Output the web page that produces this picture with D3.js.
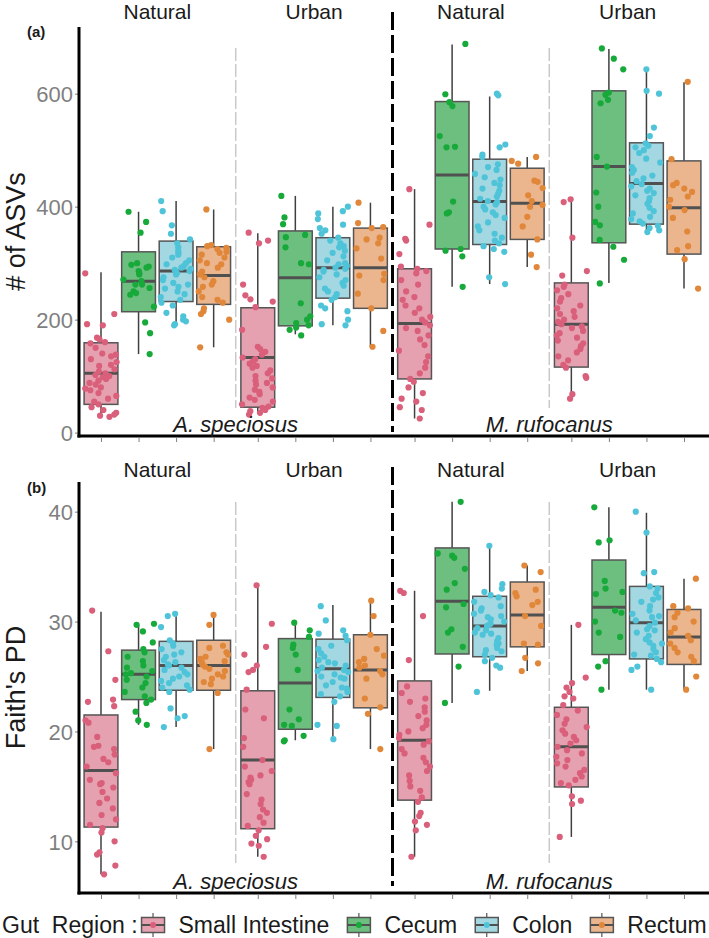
<!DOCTYPE html>
<html>
<head>
<meta charset="utf-8">
<script src="https://cdn.jsdelivr.net/npm/d3@7"></script>
<style>
  body { margin: 0; background: #fff; }
  svg { font-family: "Liberation Sans", Arial, sans-serif; }
</style>
</head>
<body>
<div id="chart"></div>
<script>
// gut regions, habitats, host species
var regions = ["Small Intestine", "Cecum", "Colon", "Rectum"];
var habitats = ["Natural", "Urban", "Natural", "Urban"];
var species = ["A. speciosus", "M. rufocanus"];
var regionColors = ["#d95f7b", "#17a93a", "#4fc4d9", "#e0873a"];
var regionFills = ["#e6a1b1", "#6dbf7f", "#a3d8e2", "#ebb68e"];

// order of the 16 boxes: A.s. Natural (SI, Ce, Co, Re), A.s. Urban, M.r. Natural, M.r. Urban
// box stats: [lower whisker, q1, median, q3, upper whisker]
var asvBox = [
  [30, 50, 105, 159, 284], [139, 214, 268, 320, 391], [190, 232, 286, 339, 410], [151, 227, 278, 329, 395],
  [34, 45, 133, 221, 353], [174, 189, 274, 357, 419], [190, 238, 292, 345, 400], [152, 220, 292, 362, 407],
  [25, 95, 193, 290, 431], [258, 325, 456, 586, 687], [263, 333, 409, 484, 595], [293, 342, 406, 468, 488],
  [58, 116, 192, 265, 412], [265, 336, 471, 605, 679], [353, 369, 441, 513, 642], [255, 316, 398, 481, 620]
];
var asvPts = [
  [282, 210, 192, 190, 168, 165, 160, 158, 150, 140, 138, 135, 130, 125, 120, 118, 112, 108, 105, 102, 100, 98, 95, 92, 88, 85, 80, 78, 75, 70, 65, 60, 55, 50, 45, 40, 35, 32, 30, 28],
  [391, 373, 354, 300, 297, 294, 292, 286, 283, 280, 271, 268, 262, 262, 256, 250, 247, 244, 223, 195, 176, 139],
  [410, 392, 367, 352, 342, 335, 328, 322, 318, 315, 310, 305, 300, 298, 295, 292, 290, 288, 286, 284, 282, 280, 275, 270, 265, 262, 258, 255, 250, 245, 240, 235, 230, 225, 212, 206, 200, 197, 192, 190],
  [395, 332, 330, 327, 325, 320, 318, 315, 310, 305, 300, 298, 292, 285, 280, 275, 268, 262, 258, 250, 240, 235, 230, 220, 215, 210, 200, 151],
  [354, 340, 335, 262, 243, 236, 232, 222, 182, 152, 148, 143, 138, 133, 130, 126, 122, 118, 115, 110, 105, 100, 96, 92, 88, 85, 80, 76, 72, 68, 62, 58, 55, 50, 46, 44, 40, 38, 35, 32],
  [419, 381, 369, 350, 346, 328, 300, 298, 229, 206, 200, 194, 190, 186, 182, 172],
  [400, 392, 388, 378, 368, 362, 358, 352, 345, 340, 335, 330, 328, 322, 318, 312, 305, 300, 298, 295, 292, 290, 288, 285, 280, 275, 270, 265, 260, 255, 250, 245, 240, 235, 225, 220, 215, 200, 192, 190],
  [407, 371, 364, 362, 345, 342, 335, 326, 308, 281, 278, 270, 246, 220, 180, 152],
  [431, 368, 343, 340, 316, 294, 290, 286, 282, 270, 262, 250, 240, 235, 225, 220, 212, 205, 200, 195, 190, 185, 180, 172, 165, 155, 145, 135, 125, 115, 105, 95, 90, 80, 70, 60, 55, 45, 40, 25],
  [688, 599, 585, 578, 525, 506, 505, 409, 390, 388, 325, 322, 312, 258],
  [600, 597, 510, 505, 492, 488, 475, 470, 465, 458, 452, 448, 442, 438, 432, 428, 422, 418, 414, 410, 408, 404, 400, 395, 390, 385, 380, 372, 365, 358, 352, 345, 340, 335, 330, 325, 320, 275, 263],
  [488, 481, 476, 446, 444, 433, 420, 410, 403, 400, 382, 365, 342, 315, 293],
  [413, 408, 345, 286, 278, 262, 258, 252, 245, 238, 232, 225, 220, 215, 210, 205, 200, 196, 192, 188, 185, 180, 176, 172, 168, 163, 158, 153, 148, 142, 135, 128, 120, 115, 100, 97, 68, 60],
  [680, 662, 643, 602, 598, 589, 583, 488, 471, 425, 400, 373, 367, 341, 329, 306, 264],
  [643, 605, 600, 540, 525, 512, 508, 505, 500, 495, 485, 478, 470, 465, 460, 455, 450, 445, 440, 436, 432, 428, 424, 420, 415, 410, 405, 398, 392, 388, 382, 378, 374, 370, 366, 362, 358, 355],
  [621, 484, 442, 438, 432, 426, 418, 412, 400, 394, 380, 356, 330, 323, 307, 255]
];

var pdBox = [
  [7.0, 11.3, 16.45, 21.5, 30.9], [20.6, 22.9, 25.2, 27.4, 29.7], [20.4, 23.75, 26.0, 28.2, 30.7], [18.4, 23.75, 26.0, 28.3, 30.5],
  [8.6, 11.15, 17.4, 23.7, 33.3], [19.2, 20.2, 24.4, 28.45, 29.9], [19.3, 23.1, 25.7, 28.4, 31.5], [18.4, 22.15, 25.6, 28.8, 31.8],
  [8.6, 13.75, 19.2, 24.6, 32.8], [22.6, 27.05, 31.85, 36.7, 40.9], [23.7, 26.8, 29.6, 32.3, 36.8], [25.5, 27.7, 30.6, 33.6, 35.1],
  [10.4, 14.95, 18.6, 22.2, 29.7], [23.8, 27.0, 31.3, 35.6, 40.4], [23.8, 26.6, 29.9, 33.2, 39.9], [23.8, 26.1, 28.6, 31.1, 33.9]
];
var pdPts = [
  [31.0, 27.3, 24.7, 22.9, 22.7, 22.3, 21.0, 20.8, 19.5, 18.7, 18.6, 18.4, 17.9, 17.5, 17.2, 16.8, 16.2, 15.6, 15.3, 15.2, 14.9, 14.5, 13.9, 13.5, 13.0, 12.4, 12.0, 11.5, 11.2, 10.8, 10.0, 9.0, 8.8, 7.8, 7.0],
  [29.8, 29.7, 29.1, 28.1, 27.5, 27.2, 26.8, 26.4, 26.0, 25.8, 25.5, 25.3, 25.2, 25.0, 24.7, 24.4, 24.0, 23.6, 23.2, 22.9, 22.6, 21.8, 21.0, 20.6],
  [30.7, 30.5, 29.5, 28.3, 28.0, 27.8, 27.5, 27.2, 27.0, 26.8, 26.5, 26.3, 26.1, 26.0, 25.8, 25.6, 25.4, 25.2, 25.0, 24.8, 24.6, 24.4, 24.2, 24.0, 23.8, 23.6, 22.1, 21.4, 21.2, 20.4],
  [30.6, 29.7, 27.8, 27.6, 27.2, 27.0, 26.8, 26.6, 26.4, 26.3, 26.1, 25.9, 25.7, 25.5, 25.2, 25.0, 24.8, 24.5, 24.3, 23.5, 18.4],
  [33.3, 29.8, 27.7, 27.0, 26.0, 25.6, 25.4, 23.8, 22.0, 21.2, 19.4, 18.6, 17.4, 16.8, 16.4, 16.0, 15.8, 15.6, 15.4, 15.2, 14.3, 13.8, 13.4, 12.9, 12.6, 12.2, 11.7, 11.4, 11.0, 10.5, 10.2, 9.8, 9.6, 8.6],
  [29.9, 29.2, 28.6, 27.9, 27.6, 27.0, 25.6, 22.0, 21.1, 20.6, 20.5, 19.6, 19.2, 19.1],
  [31.4, 30.1, 29.2, 28.9, 28.7, 28.3, 27.8, 27.5, 27.1, 26.8, 26.5, 26.3, 26.2, 26.0, 25.8, 25.6, 25.5, 25.4, 25.2, 25.0, 24.9, 24.8, 24.5, 24.2, 24.0, 23.9, 23.6, 23.4, 23.2, 22.7, 20.6, 20.5, 19.3],
  [31.9, 30.5, 28.8, 27.5, 26.9, 26.6, 26.3, 26.0, 25.8, 25.5, 25.2, 24.8, 23.0, 22.2, 21.6, 18.4],
  [32.8, 32.6, 30.5, 26.5, 24.1, 23.5, 23.0, 22.7, 22.2, 21.8, 21.4, 21.0, 20.6, 20.3, 20.0, 19.7, 19.4, 19.1, 18.8, 18.4, 18.0, 17.6, 17.2, 16.8, 16.4, 16.0, 15.5, 15.0, 14.6, 14.0, 13.6, 12.6, 12.3, 11.8, 11.5, 11.0, 8.6],
  [40.9, 36.2, 36.0, 35.8, 34.8, 33.5, 32.9, 31.6, 31.3, 29.3, 29.0, 27.7, 25.9, 22.6],
  [36.9, 33.4, 33.0, 32.7, 32.4, 32.2, 31.8, 31.4, 31.2, 31.0, 30.7, 30.5, 30.4, 30.2, 30.0, 29.8, 29.7, 29.6, 29.4, 29.2, 29.0, 28.9, 28.8, 28.5, 28.2, 28.0, 27.9, 27.6, 27.4, 27.3, 27.0, 26.7, 26.4, 26.0, 25.8, 23.6],
  [35.1, 34.5, 32.9, 32.6, 32.3, 31.8, 31.5, 30.5, 29.6, 28.0, 27.9, 26.7, 26.2, 25.5],
  [29.7, 24.9, 24.4, 24.0, 23.6, 23.2, 23.0, 22.4, 21.9, 21.5, 21.1, 20.7, 20.4, 20.1, 19.8, 19.5, 19.2, 18.9, 18.6, 18.3, 18.0, 17.7, 17.4, 17.1, 16.8, 16.5, 16.2, 15.9, 15.6, 15.3, 15.1, 14.1, 13.7, 13.4, 10.4],
  [40.4, 37.4, 37.2, 33.7, 33.0, 32.7, 32.5, 31.0, 30.8, 30.0, 29.0, 28.6, 26.4, 25.9, 23.8],
  [40.0, 38.1, 34.5, 34.4, 33.2, 33.0, 32.6, 32.2, 32.0, 31.8, 31.4, 31.0, 30.7, 30.5, 30.4, 30.1, 29.9, 29.6, 29.3, 29.2, 29.0, 28.7, 28.4, 28.1, 28.0, 27.8, 27.5, 27.2, 27.0, 26.9, 26.6, 26.3, 25.9, 25.6, 23.8],
  [33.9, 31.4, 31.2, 30.8, 30.4, 30.0, 29.4, 29.0, 28.7, 28.3, 28.0, 27.6, 27.2, 26.8, 26.4, 25.0, 23.8]
];

var asvTicks = [0, 200, 400, 600];
var pdTicks = [10, 20, 30, 40];

var svgWidth = 709;
var svgHeight = 938;
var groupGap = 4.175;   // slots between group starts
var boxW = 0.9;         // box width in slot units

var svg = d3.select("#chart")
    .append("svg")
    .attr("width", svgWidth)
    .attr("height", svgHeight);

// slot position of each box
function slot(i) {
    return Math.floor(i / 4) * groupGap + (i % 4);
}

// fixed pseudo jitter in [0,1) so the picture is the same every run
function jit(k, i, pi) {
    var s = Math.sin(k * 12.9898 + i * 78.233 + pi * 37.719) * 43758.5453;
    return s - Math.floor(s);
}

var xScale = d3.scaleLinear()
    .domain([0, 3 * groupGap + 3])
    .range([101, 684]);

var axisLeft = 79;
var ink = "#1a1a1a";

var panels = [
    { box: asvBox, pts: asvPts, ticks: asvTicks, domain: [-6, 718], range: [436, 27],
      title: "# of ASVs", tag: "(a)", tagY: 37, stripY: 19, gray: [48, 408], black: [12, 432] },
    { box: pdBox, pts: pdPts, ticks: pdTicks, domain: [5.3, 42.7], range: [893, 482],
      title: "Faith's PD", tag: "(b)", tagY: 493, stripY: 477, gray: [502, 863], black: [467, 886] }
];

panels.forEach(function(p, pi) {
    var y = d3.scaleLinear().domain(p.domain).range(p.range);
    var g = svg.append("g");
    var bottom = p.range[0];

    // divider lines between habitats and species
    [3, 11].forEach(function(s) {
        var xx = xScale((slot(s) + slot(s + 1)) / 2);
        g.append("line")
            .attr("x1", xx).attr("x2", xx)
            .attr("y1", p.gray[0]).attr("y2", p.gray[1])
            .attr("stroke", "#c9c9c9")
            .attr("stroke-width", 1.5)
            .attr("stroke-dasharray", "13,3");
    });
    var xb = xScale((slot(7) + slot(8)) / 2);
    g.append("line")
        .attr("x1", xb).attr("x2", xb)
        .attr("y1", p.black[0]).attr("y2", p.black[1])
        .attr("stroke", "#000")
        .attr("stroke-width", 3)
        .attr("stroke-dasharray", "18,5");

    // y axis
    var yAxis = d3.axisLeft(y).tickValues(p.ticks).tickSize(4).tickSizeOuter(0);
    var ya = g.append("g")
        .attr("transform", `translate(${axisLeft},0)`)
        .call(yAxis);
    ya.select(".domain").remove();
    ya.selectAll(".tick line").attr("stroke", "#7f7f7f");
    ya.selectAll(".tick text")
        .attr("fill", "#7f7f7f")
        .attr("font-size", "22px")
        .attr("font-family", "Liberation Sans, Arial, sans-serif")
        .attr("x", -6)
        .attr("dy", "0.36em");

    // x axis ticks
    var xTicks = d3.range(16).map(slot);
    var xAxis = d3.axisBottom(xScale).tickValues(xTicks).tickFormat("").tickSize(4).tickSizeOuter(0);
    var xa = g.append("g")
        .attr("transform", `translate(0,${bottom + 2})`)
        .call(xAxis);
    xa.select(".domain").remove();
    xa.selectAll(".tick line").attr("stroke", "#7f7f7f");

    // boxes
    var boxes = g.selectAll(".box")
        .data(p.box)
        .enter()
        .append("g")
        .attr("class", "box");

    boxes.append("line")
        .attr("x1", (d, i) => xScale(slot(i)))
        .attr("x2", (d, i) => xScale(slot(i)))
        .attr("y1", d => y(d[0]))
        .attr("y2", d => y(d[4]))
        .attr("stroke", "#404040")
        .attr("stroke-width", 1.5);

    boxes.append("rect")
        .attr("x", (d, i) => xScale(slot(i) - boxW / 2))
        .attr("width", xScale(boxW) - xScale(0))
        .attr("y", d => y(d[3]))
        .attr("height", d => y(d[1]) - y(d[3]))
        .attr("fill", (d, i) => regionFills[i % 4])
        .attr("stroke", "#555")
        .attr("stroke-width", 1.5);

    boxes.append("line")
        .attr("x1", (d, i) => xScale(slot(i) - boxW / 2))
        .attr("x2", (d, i) => xScale(slot(i) + boxW / 2))
        .attr("y1", d => y(d[2]))
        .attr("y2", d => y(d[2]))
        .attr("stroke", "#505050")
        .attr("stroke-width", 3);

    // jittered points
    p.pts.forEach(function(vals, i) {
        g.append("g")
            .selectAll("circle")
            .data(vals)
            .enter()
            .append("circle")
            .attr("cx", (v, k) => xScale(slot(i) + (jit(k, i, pi) - 0.5) * 0.84))
            .attr("cy", v => y(v))
            .attr("r", 3.1)
            .attr("fill", regionColors[i % 4]);
    });

    // axis lines
    g.append("line")
        .attr("x1", axisLeft).attr("x2", axisLeft)
        .attr("y1", p.range[1]).attr("y2", bottom + 1.5)
        .attr("stroke", "#000").attr("stroke-width", 3);
    g.append("line")
        .attr("x1", axisLeft - 1.5).attr("x2", svgWidth)
        .attr("y1", bottom).attr("y2", bottom)
        .attr("stroke", "#000").attr("stroke-width", 3);

    // habitat strip labels
    habitats.forEach(function(h, gi) {
        g.append("text")
            .attr("x", xScale(gi * groupGap + 1.5))
            .attr("y", p.stripY)
            .attr("text-anchor", "middle")
            .attr("font-size", "21px")
            .attr("fill", ink)
            .text(h);
    });

    // species labels
    species.forEach(function(s, si) {
        var b = si * 8 + 3;
        g.append("text")
            .attr("x", xScale((slot(b) + slot(b + 1)) / 2))
            .attr("y", bottom - 4)
            .attr("text-anchor", "middle")
            .attr("font-size", "22px")
            .attr("font-style", "italic")
            .attr("fill", ink)
            .text(s);
    });

    // y title
    g.append("text")
        .attr("transform", `translate(25, ${(p.range[0] + p.range[1]) / 2}) rotate(-90)`)
        .attr("text-anchor", "middle")
        .attr("font-size", "27px")
        .attr("fill", ink)
        .text(p.title);

    // panel tag
    g.append("text")
        .attr("x", 27)
        .attr("y", p.tagY)
        .attr("font-size", "15px")
        .attr("font-weight", "bold")
        .attr("fill", ink)
        .text(p.tag);
});

// legend
var legY = 925;
var legend = svg.append("g");
var lt = legend.append("text")
    .attr("x", 2)
    .attr("y", legY + 8)
    .attr("font-size", "23px")
    .attr("fill", ink)
    .attr("xml:space", "preserve")
    .style("white-space", "pre")
    .text("Gut  Region :");
var lx = 2 + lt.node().getComputedTextLength() + 4;

regions.forEach(function(r, i) {
    var kx = lx;
    legend.append("line")
        .attr("x1", kx + 11.5).attr("x2", kx + 11.5)
        .attr("y1", legY - 12).attr("y2", legY + 12)
        .attr("stroke", "#555").attr("stroke-width", 1.2);
    legend.append("rect")
        .attr("x", kx).attr("y", legY - 7.5)
        .attr("width", 23).attr("height", 15)
        .attr("fill", regionFills[i])
        .attr("stroke", "#555").attr("stroke-width", 1.5);
    legend.append("line")
        .attr("x1", kx).attr("x2", kx + 23)
        .attr("y1", legY).attr("y2", legY)
        .attr("stroke", "#505050").attr("stroke-width", 2);
    legend.append("circle")
        .attr("cx", kx + 11.5).attr("cy", legY)
        .attr("r", 3)
        .attr("fill", regionColors[i]);
    var t = legend.append("text")
        .attr("x", kx + 23 + 14)
        .attr("y", legY + 8)
        .attr("font-size", "23px")
        .attr("fill", ink)
        .text(r);
    lx = kx + 23 + 14 + t.node().getComputedTextLength() + 18;
});
</script>
</body>
</html>
